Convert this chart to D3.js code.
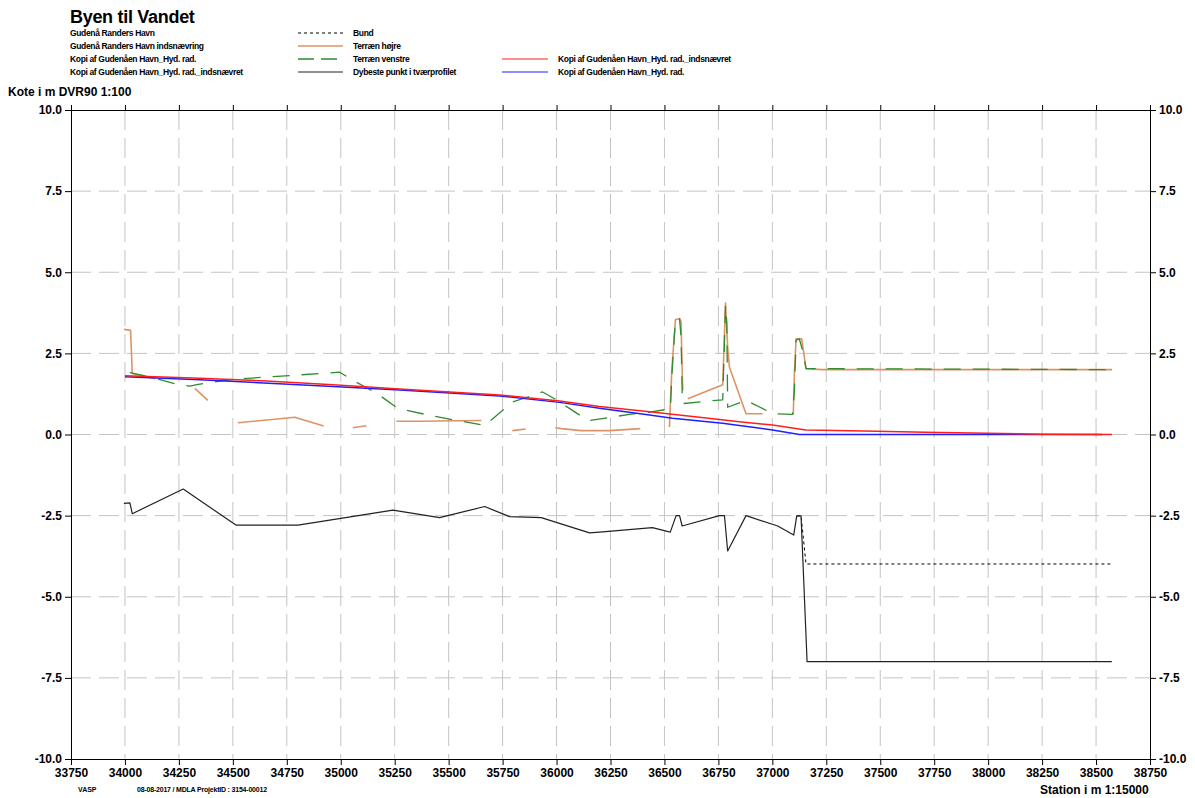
<!DOCTYPE html>
<html><head><meta charset="utf-8">
<script src="https://cdn.jsdelivr.net/npm/d3@7"></script>
<style>
body{margin:0;background:#fff}
svg{display:block}
text{font-family:"Liberation Sans",Arial,sans-serif;font-weight:bold;fill:#000}
</style>
</head><body>
<svg id="c" width="1195" height="798"></svg>
<script>
// ---- tick labels ----
const xTicks = [33750,34000,34250,34500,34750,35000,35250,35500,35750,36000,36250,36500,36750,37000,37250,37500,37750,38000,38250,38500,38750];
const yTicks = [-10,-7.5,-5,-2.5,0,2.5,5,7.5,10];

// ---- series: Dybeste punkt i tværprofilet ----
const deepStation = [33995,34023,34034,34270,34514,34802,35242,35458,35667,35782,35929,36153,36213,36444,36527,36554,36570,36582,36755,36778,36793,36878,37025,37099,37113,37133,37161,38573];
const deepElev    = [-2.12,-2.11,-2.44,-1.68,-2.79,-2.79,-2.33,-2.56,-2.22,-2.53,-2.56,-3.03,-3.00,-2.87,-3.01,-2.50,-2.50,-2.82,-2.50,-2.50,-3.59,-2.50,-2.82,-3.10,-2.51,-2.51,-7.0,-7.0];

// ---- series: Bund ----
const bundStation = [37113,37133,37156,38573];
const bundElev    = [-2.51,-2.51,-3.99,-3.99];

// ---- series: Terræn højre (null = gap) ----
const hoejreStation = [33995,34026,34034,34140,34200,34324,34384,34450,34523,34787,34921,34990,35056,35119,35190,35258,35366,35652,35720,35795,35857,35930,35994,36022,36115,36246,36388,36450,36523,36534,36551,36570,36577,36582,36585,36596,36608,36770,36783,36793,36801,36878,36955,37030,37097,37102,37110,37136,37156,37230,38574];
const hoejreElev    = [3.24,3.21,1.88,1.72,null,1.42,1.05,null,0.36,0.53,0.26,null,0.21,0.27,null,0.41,0.41,0.43,null,0.12,0.17,null,0.21,0.18,0.12,0.12,0.18,null,0.23,1.98,3.54,3.57,3.47,1.98,1.36,null,1.10,1.53,4.05,2.69,2.08,0.64,0.64,null,0.62,1.87,2.95,2.95,2.03,2.0,2.0];

// ---- series: Terræn venstre ----
const venstreStation = [34023,34083,34139,34245,34301,34333,34500,34995,35056,35167,35259,35296,35412,35565,35667,35796,35935,35991,36116,36153,36338,36431,36527,36536,36545,36551,36570,36577,36582,36582,36655,36770,36783,36789,36793,36878,36925,37002,37094,37102,37110,37125,37140,37156,38574];
const venstreElev    = [1.91,1.82,1.73,1.54,1.49,1.54,1.70,1.92,1.67,1.27,0.83,0.76,0.59,0.40,0.28,1.00,1.31,1.10,0.56,0.43,0.62,0.69,0.79,1.98,2.95,3.54,3.57,3.00,1.36,0.95,1.00,1.07,3.98,3.42,0.84,1.05,0.90,0.64,0.62,1.36,2.90,2.95,2.59,2.03,2.0];

// ---- series: Kopi af Gudenåen Havn_Hyd. rad._indsnævret ----
const indsnStation = [34000,34347,34656,34964,35273,35736,36014,36199,36431,36662,36847,37001,37155,37425,37711,37996,38259,38574];
const indsnElev    = [1.81,1.73,1.65,1.53,1.40,1.22,1.03,0.86,0.70,0.53,0.39,0.29,0.14,0.11,0.07,0.04,0.01,0.0];

// ---- series: Kopi af Gudenåen Havn_Hyd. rad. ----
const hydStation = [34000,34347,34964,35273,35736,36014,36199,36431,36537,36769,37001,37125,38528];
const hydElev    = [1.78,1.69,1.48,1.37,1.19,0.99,0.81,0.60,0.50,0.35,0.14,0.0,0.0];

// ---- text ----
const title = "Byen til Vandet";
const legendCol1 = ["Gudenå Randers Havn","Gudenå Randers Havn indsnævring","Kopi af Gudenåen Havn_Hyd. rad.","Kopi af Gudenåen Havn_Hyd. rad._indsnævret"];
const legendCol2 = ["Bund","Terræn højre","Terræn venstre","Dybeste punkt i tværprofilet"];
const legendCol3 = ["Kopi af Gudenåen Havn_Hyd. rad._indsnævret","Kopi af Gudenåen Havn_Hyd. rad."];
const yTitle = "Kote i m DVR90 1:100";
const xTitle = "Station i m  1:15000";
const footer1 = "VASP";
const footer2 = "08-08-2017 / MDLA   ProjektID : 3154-00012";

// ---- layout ----
const svg = d3.select("#c");
const L=71, R=1150, T=110, B=759;
const x = d3.scaleLinear().domain([33750,38750]).range([L,R]);
const y = d3.scaleLinear().domain([-10,10]).range([B,T]);

const styles = {
  bund:{stroke:"#000",w:1,dash:"3,3"},
  hoejre:{stroke:"#dc9466",w:1.6,dash:null},
  venstre:{stroke:"#2e8b2e",w:1.3,dash:"17,12"},
  deep:{stroke:"#222",w:1.2,dash:null},
  indsn:{stroke:"#ff1e1e",w:1.5,dash:null},
  hyd:{stroke:"#1e1eff",w:1.5,dash:null}
};

// grid
const grid = svg.append("g").attr("stroke","#c4c4c4").attr("stroke-width",1).attr("stroke-dasharray","20,8");
grid.selectAll(".gx").data(xTicks.slice(1,-1)).enter().append("line")
  .attr("x1",d=>x(d)).attr("x2",d=>x(d)).attr("y1",T).attr("y2",B);
grid.selectAll(".gy").data(yTicks.slice(1,-1)).enter().append("line")
  .attr("y1",d=>y(d)).attr("y2",d=>y(d)).attr("x1",L).attr("x2",R);

// axes
function styleAxis(g){
  g.attr("font-size",12).attr("font-family","Liberation Sans, Arial, sans-serif").attr("font-weight","bold");
  g.selectAll("path,line").attr("stroke","#000");
}
const yFmt = d => d3.format(".1f")(d).replace("\u2212","-");
svg.append("g").attr("transform",`translate(0,${B})`)
  .call(d3.axisBottom(x).tickValues(xTicks).tickSize(6).tickSizeOuter(6).tickPadding(3).tickFormat(d3.format("d"))).call(styleAxis);
svg.append("g").attr("transform",`translate(0,${T})`)
  .call(d3.axisTop(x).tickValues(xTicks).tickSize(5).tickSizeOuter(5).tickFormat("")).call(styleAxis);
svg.append("g").attr("transform",`translate(${L},0)`)
  .call(d3.axisLeft(y).tickValues(yTicks).tickSize(6).tickSizeOuter(6).tickPadding(3).tickFormat(yFmt)).call(styleAxis);
svg.append("g").attr("transform",`translate(${R},0)`)
  .call(d3.axisRight(y).tickValues(yTicks).tickSize(6).tickSizeOuter(6).tickPadding(3).tickFormat(yFmt)).call(styleAxis);

// lines
function drawSeries(st, el, s){
  const pts = st.map((d,i)=>[d, el[i]]);
  const line = d3.line().defined(d=>d[1]!==null).x(d=>x(d[0])).y(d=>y(d[1]));
  svg.append("path").datum(pts).attr("d",line)
    .attr("fill","none").attr("stroke",s.stroke).attr("stroke-width",s.w)
    .attr("stroke-dasharray",s.dash).attr("stroke-linejoin","round");
}
drawSeries(bundStation,bundElev,styles.bund);
drawSeries(deepStation,deepElev,styles.deep);
drawSeries(hoejreStation,hoejreElev,styles.hoejre);
drawSeries(venstreStation,venstreElev,styles.venstre);
drawSeries(hydStation,hydElev,styles.hyd);
drawSeries(indsnStation,indsnElev,styles.indsn);

// titles
svg.append("text").attr("x",70).attr("y",23).attr("font-size",18).attr("letter-spacing",-0.3).text(title);
const rowsY = [36,49,62,75];
const lg = svg.append("g").attr("font-size",8.5).attr("letter-spacing",-0.35);
legendCol1.forEach((t,i)=>lg.append("text").attr("x",70).attr("y",rowsY[i]).text(t));
const col2Styles=[styles.bund,styles.hoejre,styles.venstre,styles.deep];
legendCol2.forEach((t,i)=>{
  const s=col2Styles[i];
  lg.append("line").attr("x1",298).attr("x2",343).attr("y1",rowsY[i]-3).attr("y2",rowsY[i]-3)
    .attr("stroke",s.stroke).attr("stroke-width",s.w).attr("stroke-dasharray",i===2?"16,7":s.dash);
  lg.append("text").attr("x",353).attr("y",rowsY[i]).text(t);
});
const col3Styles=[styles.indsn,styles.hyd];
legendCol3.forEach((t,i)=>{
  const s=col3Styles[i];
  lg.append("line").attr("x1",502).attr("x2",548).attr("y1",rowsY[i+2]-3).attr("y2",rowsY[i+2]-3)
    .attr("stroke",s.stroke).attr("stroke-width",1.2);
  lg.append("text").attr("x",558).attr("y",rowsY[i+2]).text(t);
});

svg.append("text").attr("x",8).attr("y",96).attr("font-size",12).text(yTitle);
svg.append("text").attr("x",1040).attr("y",794).attr("font-size",12).text(xTitle);
svg.append("text").attr("x",78).attr("y",792).attr("font-size",7).text(footer1);
svg.append("text").attr("x",137).attr("y",792).attr("font-size",7).attr("letter-spacing",-0.2).text(footer2);
</script>
</body></html>
